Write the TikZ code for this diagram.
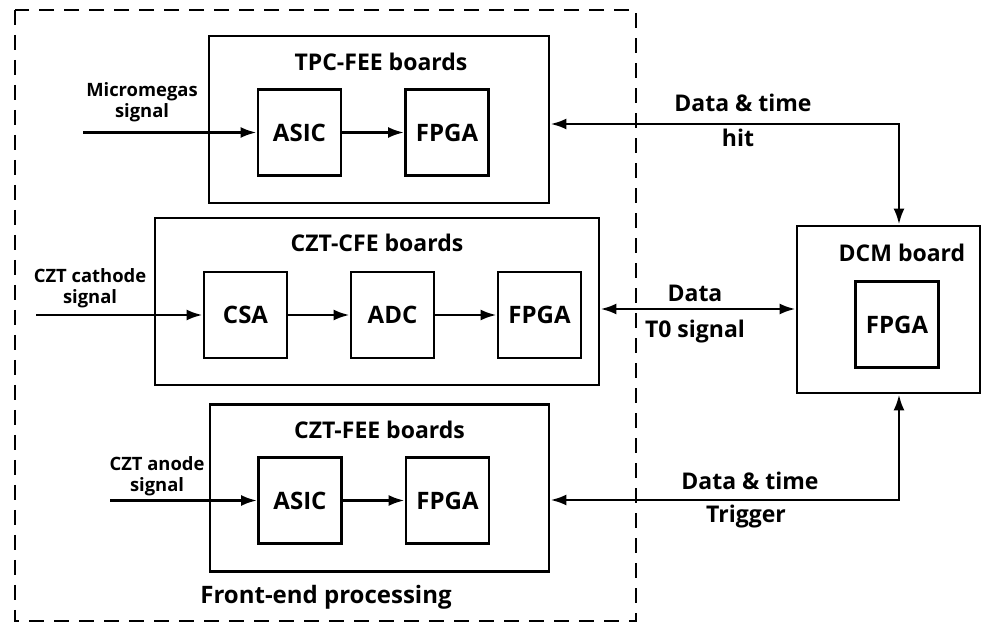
\documentclass[tikz,border=0pt]{standalone}
\usepackage{fontspec}
\setmainfont{Open Sans}
\usetikzlibrary{arrows.meta}

\tikzset{
    board/.style={draw, line width=1.4pt, minimum width=#1, minimum height=83.5pt, inner sep=0pt},
    chip/.style={draw, line width=1.4pt, minimum width=41.5pt, minimum height=43pt, inner sep=0pt, font=\fontsize{12}{14}\selectfont\bfseries},
    title/.style={font=\fontsize{11.5}{13}\selectfont\bfseries, inner sep=0pt},
    siglabel/.style={font=\fontsize{9.2}{10.5}\selectfont\bfseries, align=center, inner sep=0pt},
    linklabel/.style={font=\fontsize{11.5}{13}\selectfont\bfseries, inner sep=0pt},
    link/.style={line width=1.4pt, -{Latex[length=8pt,width=5.5pt]}},
    duplex/.style={line width=1.4pt, {Latex[length=8pt,width=5.5pt]}-{Latex[length=8pt,width=5.5pt]}}
}

\begin{document}
\begin{tikzpicture}[x=0.5pt, y=-0.5pt]
    \useasboundingbox (0,0) rectangle (982,624);

    % Caja punteada del procesamiento front-end
    \draw[line width=1.4pt, dash pattern=on 7.5pt off 5pt] (15,10) rectangle (636,621);
    \node[title, font=\fontsize{12}{14}\selectfont\bfseries] (fep) at (326,597) {Front-end processing};

    % Tarjetas TPC-FEE
    \node[board=170pt] (tpc) at (379,119.5) {};
    \node[title] (tpctitle) at (381,62) {TPC-FEE boards};
    \node[chip] (asic1) at (299.5,132.5) {ASIC};
    \node[chip] (fpga1) at (447,132.5) {FPGA};
    \coordinate (mmin) at (83,132.5);
    \node[siglabel] (mmlabel) at (142,102) {Micromegas\\signal};
    \draw[link] (mmin) -- (asic1);
    \draw[link] (asic1) -- (fpga1);

    % Tarjetas CZT-CFE
    \node[board=222pt] (cfe) at (377,301.5) {};
    \node[title] (cfetitle) at (377,243) {CZT-CFE boards};
    \node[chip] (csa) at (245.5,315) {CSA};
    \node[chip] (adc) at (392.5,315) {ADC};
    \node[chip] (fpga2) at (539.5,315) {FPGA};
    \coordinate (cathin) at (36,315);
    \node[siglabel] (cathlabel) at (90,288) {CZT cathode\\signal};
    \draw[link] (cathin) -- (csa);
    \draw[link] (csa) -- (adc);
    \draw[link] (adc) -- (fpga2);

    % Tarjetas CZT-FEE
    \node[board=169.5pt] (fee) at (379.5,488) {};
    \node[title] (feetitle) at (379.5,430) {CZT-FEE boards};
    \node[chip] (asic3) at (300,500.5) {ASIC};
    \node[chip] (fpga3) at (447.5,500.5) {FPGA};
    \coordinate (anin) at (110,500.5);
    \node[siglabel] (anlabel) at (157,476) {CZT anode\\signal};
    \draw[link] (anin) -- (asic3);
    \draw[link] (asic3) -- (fpga3);

    % Tarjeta DCM
    \node[board=91.5pt] (dcm) at (888.5,309.5) {};
    \node[title] (dcmtitle) at (902,253) {DCM board};
    \node[chip] (fpga4) at (897,324.5) {FPGA};

    % Enlaces con la DCM
    \coordinate (hitcorner) at (899,124);
    \draw[duplex] (hitcorner |- dcm.north) -- (hitcorner) -- (tpc.east |- hitcorner);
    \node[linklabel] (hitup) at (743,103) {Data \& time};
    \node[linklabel] (hitdown) at (738,138) {hit};

    \coordinate (datalink) at (0,309);
    \draw[duplex] (cfe.east |- datalink) -- (dcm.west |- datalink);
    \node[linklabel] (dataup) at (695,293) {Data};
    \node[linklabel] (datadown) at (695,332) {T0 signal};

    \coordinate (trigcorner) at (899,500);
    \draw[duplex] (hitcorner |- dcm.south) -- (trigcorner) -- (fee.east |- trigcorner);
    \node[linklabel] (trigup) at (750,481) {Data \& time};
    \node[linklabel] (trigdown) at (746,517) {Trigger};
\end{tikzpicture}
\end{document}
